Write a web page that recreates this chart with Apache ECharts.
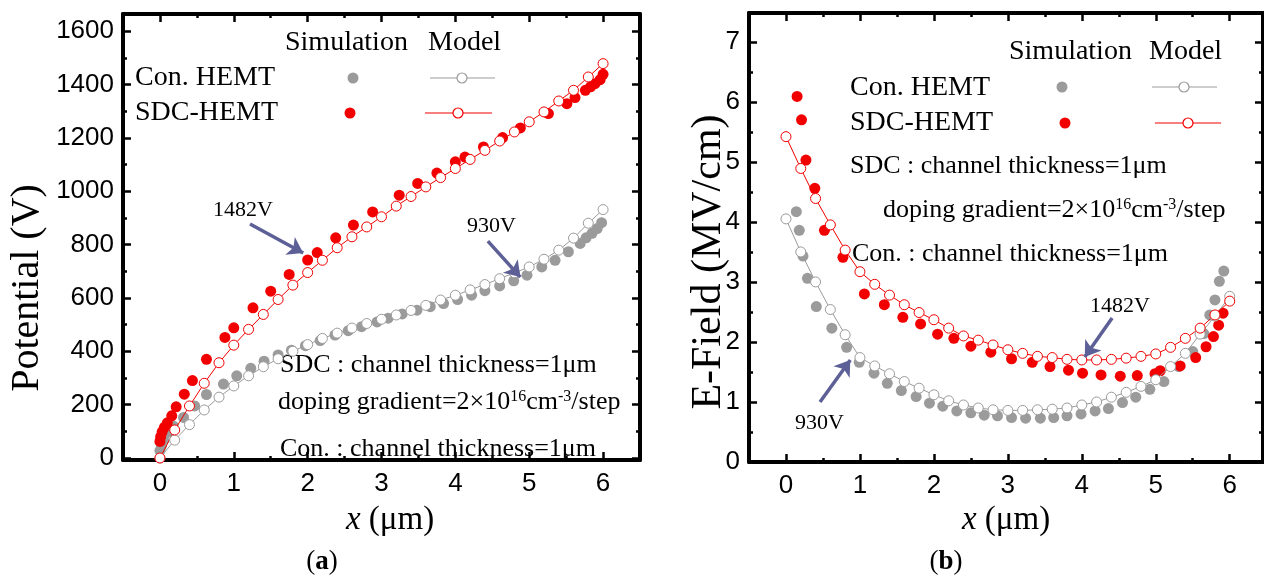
<!DOCTYPE html>
<html>
<head>
<meta charset="utf-8">
<script src="https://cdn.jsdelivr.net/npm/echarts@6/dist/echarts.min.js"></script>
<style>
  html, body { margin: 0; padding: 0; background: #fff; }
  #chart { width: 1264px; height: 580px; }
</style>
</head>
<body>
<div id="chart"></div>
<script>
// ---- (a) Potential ----
var modelX = [0, 0.2, 0.4, 0.6, 0.8, 1.0, 1.2, 1.4, 1.6, 1.8, 2.0, 2.2, 2.4, 2.6, 2.8, 3.0,
  3.2, 3.4, 3.6, 3.8, 4.0, 4.2, 4.4, 4.6, 4.8, 5.0, 5.2, 5.4, 5.6, 5.8, 6.0];
var potConModel = [0, 67, 125, 180, 228, 270, 308, 342, 372, 400, 425, 448, 468, 487, 504, 520,
  536, 553, 572, 592, 610, 630, 650, 672, 694, 716, 745, 779, 824, 880, 931];
var potSdcModel = [0, 105, 195, 280, 357, 423, 482, 538, 594, 648, 695, 741, 788, 829, 866, 904,
  944, 980, 1016, 1051, 1085, 1119, 1153, 1188, 1222, 1260, 1297, 1338, 1378, 1428, 1478];
var potConSimX = [0, 0.02, 0.05, 0.1, 0.18, 0.32, 0.47, 0.63, 0.86, 1.04, 1.23, 1.41, 1.6, 1.78,
  1.97, 2.17, 2.37, 2.55, 2.73, 2.94, 3.09, 3.28, 3.48, 3.66, 3.84, 4.03, 4.22, 4.4, 4.6, 4.79,
  4.97, 5.17, 5.35, 5.53, 5.69, 5.77, 5.85, 5.92, 5.98];
var potConSim = [28, 45, 68, 95, 120, 152, 195, 238, 277, 308, 336, 363, 386, 404,
  421, 440, 461, 477, 492, 510, 524, 540, 554, 567, 579, 594, 610, 627, 645, 664,
  685, 716, 741, 773, 804, 825, 842, 860, 882];
var potSdcSimX = [0, 0.01, 0.03, 0.06, 0.1, 0.16, 0.22, 0.33, 0.44, 0.63, 0.88, 1.0, 1.26, 1.5,
  1.75, 2.0, 2.13, 2.38, 2.62, 2.88, 3.24, 3.49, 3.75, 4.0, 4.13, 4.38, 4.64, 4.88, 5.26, 5.51,
  5.62, 5.76, 5.83, 5.89, 5.96, 6.0];
var potSdcSim = [62, 80, 98, 115, 132, 158, 192, 239, 290, 370, 452, 488, 563, 625,
  688, 742, 770, 825, 873, 922, 985, 1029, 1068, 1110, 1128, 1166, 1201, 1237, 1291, 1328,
  1351, 1378, 1391, 1403, 1418, 1438];
var potMajor = [0, 200, 400, 600, 800, 1000, 1200, 1400, 1600];
var potMinor = [100, 300, 500, 700, 900, 1100, 1300, 1500];

// ---- (b) E-Field ----
var efConModel = [4.05, 3.5, 3.0, 2.54, 2.12, 1.74, 1.6, 1.47, 1.34, 1.23, 1.12, 1.02, 0.95, 0.9, 0.87, 0.86,
  0.86, 0.87, 0.88, 0.9, 0.95, 1.0, 1.08, 1.16, 1.26, 1.37, 1.59, 1.81, 2.13, 2.43, 2.76];
var efSdcModel = [5.42, 4.89, 4.39, 3.95, 3.53, 3.17, 2.96, 2.78, 2.62, 2.49, 2.37, 2.23, 2.1, 2.03, 1.95, 1.87,
  1.81, 1.76, 1.74, 1.71, 1.7, 1.7, 1.71, 1.73, 1.76, 1.8, 1.91, 2.06, 2.23, 2.45, 2.68];
var efConSimX = [0.14, 0.18, 0.23, 0.29, 0.41, 0.62, 0.82, 0.99, 1.19, 1.37, 1.56, 1.76, 1.94, 2.12,
  2.31, 2.5, 2.68, 2.86, 3.05, 3.24, 3.44, 3.62, 3.8, 3.99, 4.18, 4.36, 4.55, 4.73, 4.92, 5.11,
  5.31, 5.5, 5.65, 5.73, 5.8, 5.86, 5.92];
var efConSim = [4.17, 3.86, 3.43, 3.06, 2.59, 2.23, 1.91, 1.66, 1.48, 1.31, 1.19, 1.09, 0.98, 0.93,
  0.85, 0.82, 0.78, 0.77, 0.74, 0.73, 0.73, 0.74, 0.77, 0.8, 0.85, 0.89, 0.99, 1.08, 1.21, 1.34,
  1.59, 1.84, 2.14, 2.45, 2.7, 3.01, 3.18];
var efSdcSimX = [0.15, 0.21, 0.27, 0.39, 0.52, 0.77, 1.06, 1.33, 1.58, 1.82, 2.05, 2.27, 2.5, 2.77,
  3.05, 3.33, 3.57, 3.82, 4.01, 4.26, 4.52, 4.75, 4.99, 5.06, 5.33, 5.54, 5.68, 5.78, 5.85, 5.91];
var efSdcSim = [6.09, 5.7, 5.03, 4.56, 3.86, 3.41, 2.8, 2.62, 2.41, 2.3, 2.13, 2.06, 1.93, 1.83,
  1.72, 1.66, 1.59, 1.53, 1.48, 1.45, 1.43, 1.44, 1.47, 1.52, 1.6, 1.74, 1.92, 2.09, 2.28, 2.48];
var efMajor = [0, 1, 2, 3, 4, 5, 6, 7];
var efMinor = [0.5, 1.5, 2.5, 3.5, 4.5, 5.5, 6.5];

var xMajor = [0, 1, 2, 3, 4, 5, 6];
var xMinor = [0.5, 1.5, 2.5, 3.5, 4.5, 5.5];

// arrows: [x0, y0, x1, y1] in data units
var potArrows = [[1.22, 877, 1.94, 768], [4.44, 813, 4.88, 678]];
var efArrows = [[4.41, 2.4, 4.04, 1.75], [0.46, 1.0, 0.87, 1.7]];

var GRAY = '#9b9b9b';
var RED = '#f20000';
var ARROW = '#5c6096';
var SERIF = '"Liberation Serif", "Times New Roman", serif';

function zip(xs, ys) {
  return xs.map(function (x, i) { return [x, ys[i]]; });
}

// one side of the frame: main line + ticks (+labels), or minor ticks only
function axis(grid, pos, min, max, ticks, len, opts) {
  opts = opts || {};
  return {
    type: 'value', gridIndex: grid, position: pos, min: min, max: max,
    axisLine: { show: !!opts.line, onZero: false, lineStyle: { color: '#000', width: 4 } },
    axisTick: { show: true, inside: true, length: len, customValues: ticks,
      lineStyle: { color: '#000', width: 2.5 } },
    axisLabel: opts.labels ? {
      show: true, customValues: ticks, color: '#000', fontSize: 26,
      fontFamily: 'Liberation Sans', margin: opts.margin,
      formatter: function (v) { return String(v); }
    } : { show: false },
    splitLine: { show: false }
  };
}

function xAxes(grid, min, max) {
  return [
    axis(grid, 'bottom', min, max, xMajor, 8, { line: true, labels: true, margin: 11 }),
    axis(grid, 'bottom', min, max, xMinor, 4),
    axis(grid, 'top', min, max, xMajor, 8, { line: true }),
    axis(grid, 'top', min, max, xMinor, 4)
  ];
}
function yAxes(grid, min, max, major, minor) {
  return [
    axis(grid, 'left', min, max, major, 8, { line: true, labels: true, margin: 9 }),
    axis(grid, 'left', min, max, minor, 4),
    axis(grid, 'right', min, max, major, 8, { line: true }),
    axis(grid, 'right', min, max, minor, 4)
  ];
}

function simSeries(xi, data, color) {
  return { type: 'scatter', xAxisIndex: xi, yAxisIndex: xi, data: data,
    symbol: 'circle', symbolSize: 11, itemStyle: { color: color, opacity: 1 }, silent: true };
}
function modelSeries(xi, data, color) {
  return { type: 'line', xAxisIndex: xi, yAxisIndex: xi, data: data,
    symbol: 'circle', symbolSize: 10, showAllSymbol: true,
    lineStyle: { color: color, width: 1 },
    itemStyle: { color: '#fff', borderColor: color, borderWidth: 1, opacity: 1 }, silent: true };
}
function arrowMarks(list) {
  return {
    silent: true, symbol: ['none', 'arrow'], symbolSize: 15,
    label: { show: false },
    lineStyle: { color: ARROW, width: 3.5, type: 'solid' },
    data: list.map(function (a) {
      return [{ coord: [a[0], a[1]] }, { coord: [a[2], a[3]] }];
    })
  };
}

function txt(x, y, text, size, extra) {
  var el = { type: 'text', x: x, y: y, silent: true,
    style: { text: text, font: size + 'px ' + SERIF, fill: '#000', align: 'left', verticalAlign: 'middle' } };
  if (extra) for (var k in extra) el.style[k] = extra[k];
  return el;
}
function dot(cx, cy, color) {
  return { type: 'circle', silent: true, shape: { cx: cx, cy: cy, r: 5.5 }, style: { fill: color } };
}
function modelKey(x1, x2, cx, y, color) {
  return [
    { type: 'line', silent: true, shape: { x1: x1, y1: y, x2: x2, y2: y }, style: { stroke: color, lineWidth: 1.2 } },
    { type: 'circle', silent: true, z: 10, shape: { cx: cx, cy: y, r: 5 }, style: { fill: '#fff', stroke: color, lineWidth: 1.2 } }
  ];
}
var richDoping = {
  n: { font: '26px ' + SERIF, fill: '#000', lineHeight: 32 },
  s: { font: '16px ' + SERIF, fill: '#000', verticalAlign: 'top', lineHeight: 16, padding: [3, 0, 0, 0] }
};
var dopingText = '{n|doping gradient=2×10}{s|16}{n|cm}{s|-3}{n|/step}';
var richX = {
  i: { font: 'italic 33px ' + SERIF, fill: '#000' },
  n: { font: '33px ' + SERIF, fill: '#000' }
};
var richTag = {
  n: { font: '27px ' + SERIF, fill: '#000' },
  b: { font: 'bold 27px ' + SERIF, fill: '#000' }
};

var graphics = [
  // (a)
  txt(285, 43, 'Simulation', 28), txt(428, 43, 'Model', 28),
  txt(135, 78, 'Con. HEMT', 28), txt(135, 113, 'SDC-HEMT', 28),
  dot(353, 78, GRAY), dot(350, 113, RED),
  txt(213, 210, '1482V', 22), txt(467, 226, '930V', 22),
  txt(280, 365, 'SDC : channel thickness=1μm', 26),
  txt(278, 402, dopingText, 26, { rich: richDoping }),
  txt(280, 449, 'Con. : channel thickness=1μm', 26),
  { type: 'text', x: 27, y: 288, rotation: Math.PI / 2, silent: true,
    style: { text: 'Potential (V)', font: '40px ' + SERIF, fill: '#000', align: 'center', verticalAlign: 'middle' } },
  txt(390, 520, '{i|x}{n| (μm)}', 33, { rich: richX, align: 'center' }),
  txt(322, 562, '{n|(}{b|a}{n|)}', 27, { rich: richTag, align: 'center' }),
  // (b)
  txt(1009, 52, 'Simulation', 28), txt(1149, 52, 'Model', 28),
  txt(850, 88, 'Con. HEMT', 28), txt(850, 123, 'SDC-HEMT', 28),
  dot(1062, 87, GRAY), dot(1065, 123, RED),
  txt(850, 166, 'SDC : channel thickness=1μm', 26),
  txt(883, 210, dopingText, 26, { rich: richDoping }),
  txt(852, 254, 'Con. : channel thickness=1μm', 26),
  txt(1090, 306, '1482V', 22), txt(795, 423, '930V', 22),
  { type: 'text', x: 709, y: 262, rotation: Math.PI / 2, silent: true,
    style: { text: 'E-Field (MV/cm)', font: '42px ' + SERIF, fill: '#000', align: 'center', verticalAlign: 'middle' } },
  txt(1006, 520, '{i|x}{n| (μm)}', 33, { rich: richX, align: 'center' }),
  txt(946, 562, '{n|(}{b|b}{n|)}', 27, { rich: richTag, align: 'center' })
].concat(modelKey(430, 495, 462, 78, GRAY), modelKey(425, 492, 458, 113, RED),
  modelKey(1152, 1217, 1184, 87, GRAY), modelKey(1155, 1221, 1188, 123, RED));

var redPot = modelSeries(0, zip(modelX, potSdcModel), RED);
redPot.markLine = arrowMarks(potArrows);
var redEf = modelSeries(4, zip(modelX, efSdcModel), RED);
redEf.markLine = arrowMarks(efArrows);

var option = {
  animation: false,
  backgroundColor: '#fff',
  grid: [
    { left: 123, width: 517, top: 14, height: 446 },
    { left: 749, width: 514, top: 13, height: 449 }
  ],
  xAxis: xAxes(0, -0.5, 6.5).concat(xAxes(1, -0.5, 6.45)),
  yAxis: yAxes(0, -7.5, 1664, potMajor, potMinor).concat(yAxes(1, 0, 7.48, efMajor, efMinor)),
  series: [
    simSeries(0, zip(potConSimX, potConSim), GRAY),
    simSeries(0, zip(potSdcSimX, potSdcSim), RED),
    modelSeries(0, zip(modelX, potConModel), GRAY),
    redPot,
    simSeries(4, zip(efConSimX, efConSim), GRAY),
    simSeries(4, zip(efSdcSimX, efSdcSim), RED),
    modelSeries(4, zip(modelX, efConModel), GRAY),
    redEf
  ],
  graphic: graphics
};

var chart = echarts.init(document.getElementById('chart'));
chart.setOption(option);
</script>
</body>
</html>
